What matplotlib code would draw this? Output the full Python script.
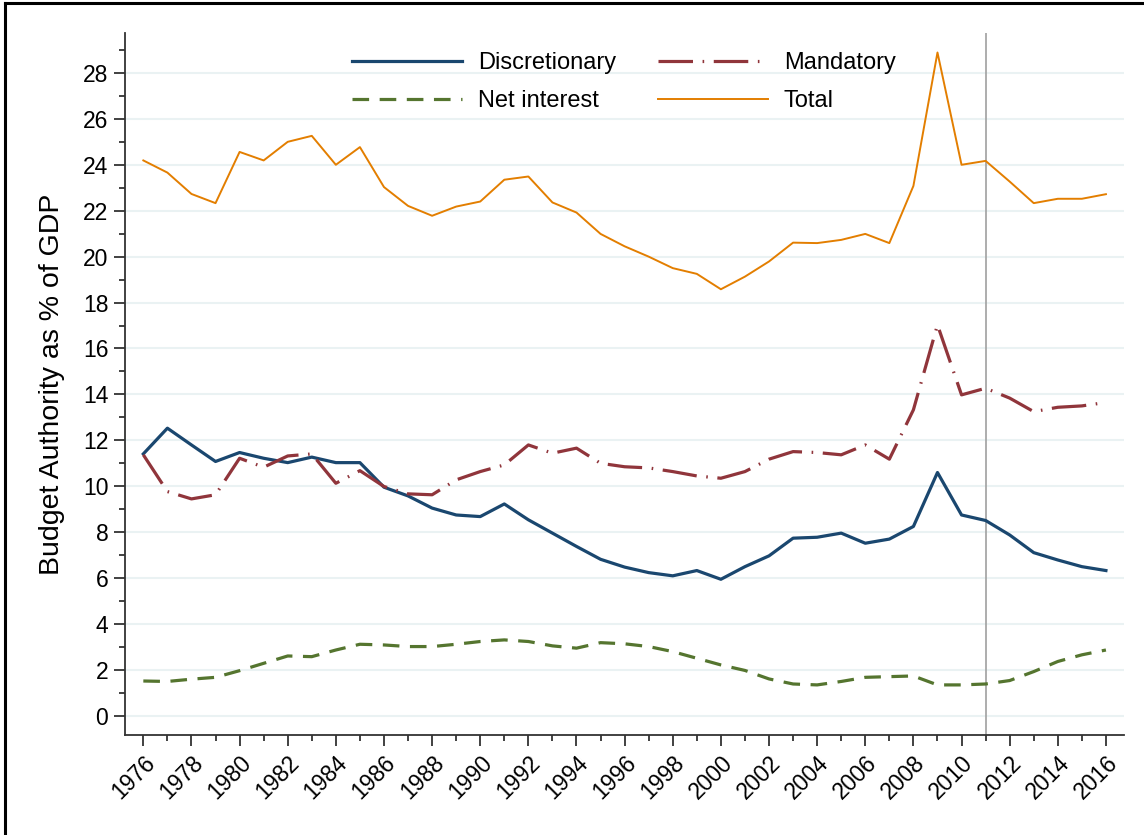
import matplotlib
matplotlib.use("Agg")
import matplotlib.pyplot as plt
from matplotlib.lines import Line2D
from matplotlib.ticker import MultipleLocator

plt.rcParams['font.family'] = ['Liberation Sans', 'DejaVu Sans']

years = list(range(1976, 2017))

discretionary = [11.41, 12.53, 11.80, 11.08, 11.47, 11.22, 11.03, 11.27, 11.03, 11.03,
                 9.96, 9.58, 9.05, 8.75, 8.68, 9.23, 8.54, 7.96, 7.38, 6.82,
                 6.48, 6.24, 6.10, 6.33, 5.95, 6.50, 6.97, 7.74, 7.78, 7.96,
                 7.52, 7.70, 8.25, 10.60, 8.75, 8.51, 7.88, 7.11, 6.79, 6.50, 6.33]

mandatory = [11.37, 9.77, 9.45, 9.63, 11.22, 10.83, 11.32, 11.41, 10.13, 10.68,
             9.99, 9.67, 9.63, 10.28, 10.64, 10.93, 11.80, 11.44, 11.66, 11.00,
             10.85, 10.80, 10.64, 10.45, 10.35, 10.64, 11.18, 11.51, 11.47, 11.37,
             11.80, 11.18, 13.33, 17.03, 13.98, 14.27, 13.84, 13.25, 13.44, 13.50, 13.65]

net_interest = [1.52, 1.50, 1.60, 1.68, 1.97, 2.29, 2.61, 2.58, 2.87, 3.12,
                3.09, 3.02, 3.02, 3.12, 3.24, 3.31, 3.24, 3.05, 2.95, 3.19,
                3.14, 3.02, 2.80, 2.51, 2.22, 1.98, 1.61, 1.39, 1.35, 1.50,
                1.68, 1.71, 1.74, 1.35, 1.35, 1.39, 1.54, 1.93, 2.37, 2.66, 2.87]

total = [24.19, 23.66, 22.73, 22.33, 24.56, 24.19, 25.00, 25.26, 24.00, 24.77,
         23.03, 22.21, 21.78, 22.18, 22.40, 23.35, 23.49, 22.36, 21.92, 20.99,
         20.45, 20.00, 19.50, 19.25, 18.58, 19.13, 19.79, 20.61, 20.59, 20.73,
         20.99, 20.59, 23.08, 28.89, 24.00, 24.17, 23.27, 22.33, 22.52, 22.52, 22.72]

cutoff_year = 2011

fig = plt.figure(figsize=(11.44, 8.35), dpi=100)
ax = fig.add_axes([0.1093, 0.1198, 0.8732, 0.8407])

# horizontal grid
for v in range(0, 29, 2):
    ax.axhline(v, color='#eaf2f3', lw=1.5, zorder=0)

ax.axvline(cutoff_year, color='#a0a0a0', lw=1.2, zorder=1)

ax.plot(years, discretionary, color='#1a476f', lw=2.3, label='Discretionary',
        solid_joinstyle='round', zorder=3)
ax.plot(years, mandatory, color='#90353b', lw=2.3, label='Mandatory',
        dashes=(10.8, 3.0, 0.5, 3.0), dash_capstyle='butt', zorder=3)
ax.plot(years, net_interest, color='#55752f', lw=2.3, label='Net interest',
        dashes=(5.2, 3.3), dash_capstyle='butt', zorder=3)
ax.plot(years, total, color='#e37e00', lw=1.4, label='Total', zorder=3)

ax.set_xlim(1975.24, 2016.75)
ax.set_ylim(-0.83, 29.74)

ax.set_xticks(range(1976, 2017, 2))
ax.xaxis.set_minor_locator(MultipleLocator(1))
ax.set_yticks(range(0, 29, 2))
ax.yaxis.set_minor_locator(MultipleLocator(1))
ax.tick_params(axis='both', which='major', length=8, width=1.3, labelsize=16.5,
               color='#333333', pad=4)
ax.tick_params(axis='both', which='minor', length=4.5, width=1.3, color='#333333')
plt.setp(ax.get_xticklabels(), rotation=45, ha='right', rotation_mode='anchor')

for s in ['top', 'right']:
    ax.spines[s].set_visible(False)
for s in ['left', 'bottom']:
    ax.spines[s].set_linewidth(1.3)
    ax.spines[s].set_color('#333333')

ax.set_ylabel('Budget Authority as % of GDP', fontsize=20.5)
ax.yaxis.set_label_coords(-0.060, 0.5)

handles, labels = ax.get_legend_handles_labels()
order = [0, 2, 1, 3]
ax.legend([handles[i] for i in order], [labels[i] for i in order], ncol=2,
          frameon=False, fontsize=17, handlelength=4.65, handletextpad=0.68,
          columnspacing=1.78, labelspacing=0.7, borderpad=0,
          loc='upper left', bbox_to_anchor=(0.2972, 0.952),
          bbox_transform=fig.transFigure)

# outer frame (cropped on the right and bottom)
fig.add_artist(Line2D([0.0048, 0.0048], [0.0, 0.9964], transform=fig.transFigure,
                      color='black', lw=2.2))
fig.add_artist(Line2D([0.0048, 1.0], [0.9964, 0.9964], transform=fig.transFigure,
                      color='black', lw=2.2))

fig.savefig('out.png', dpi=100)
